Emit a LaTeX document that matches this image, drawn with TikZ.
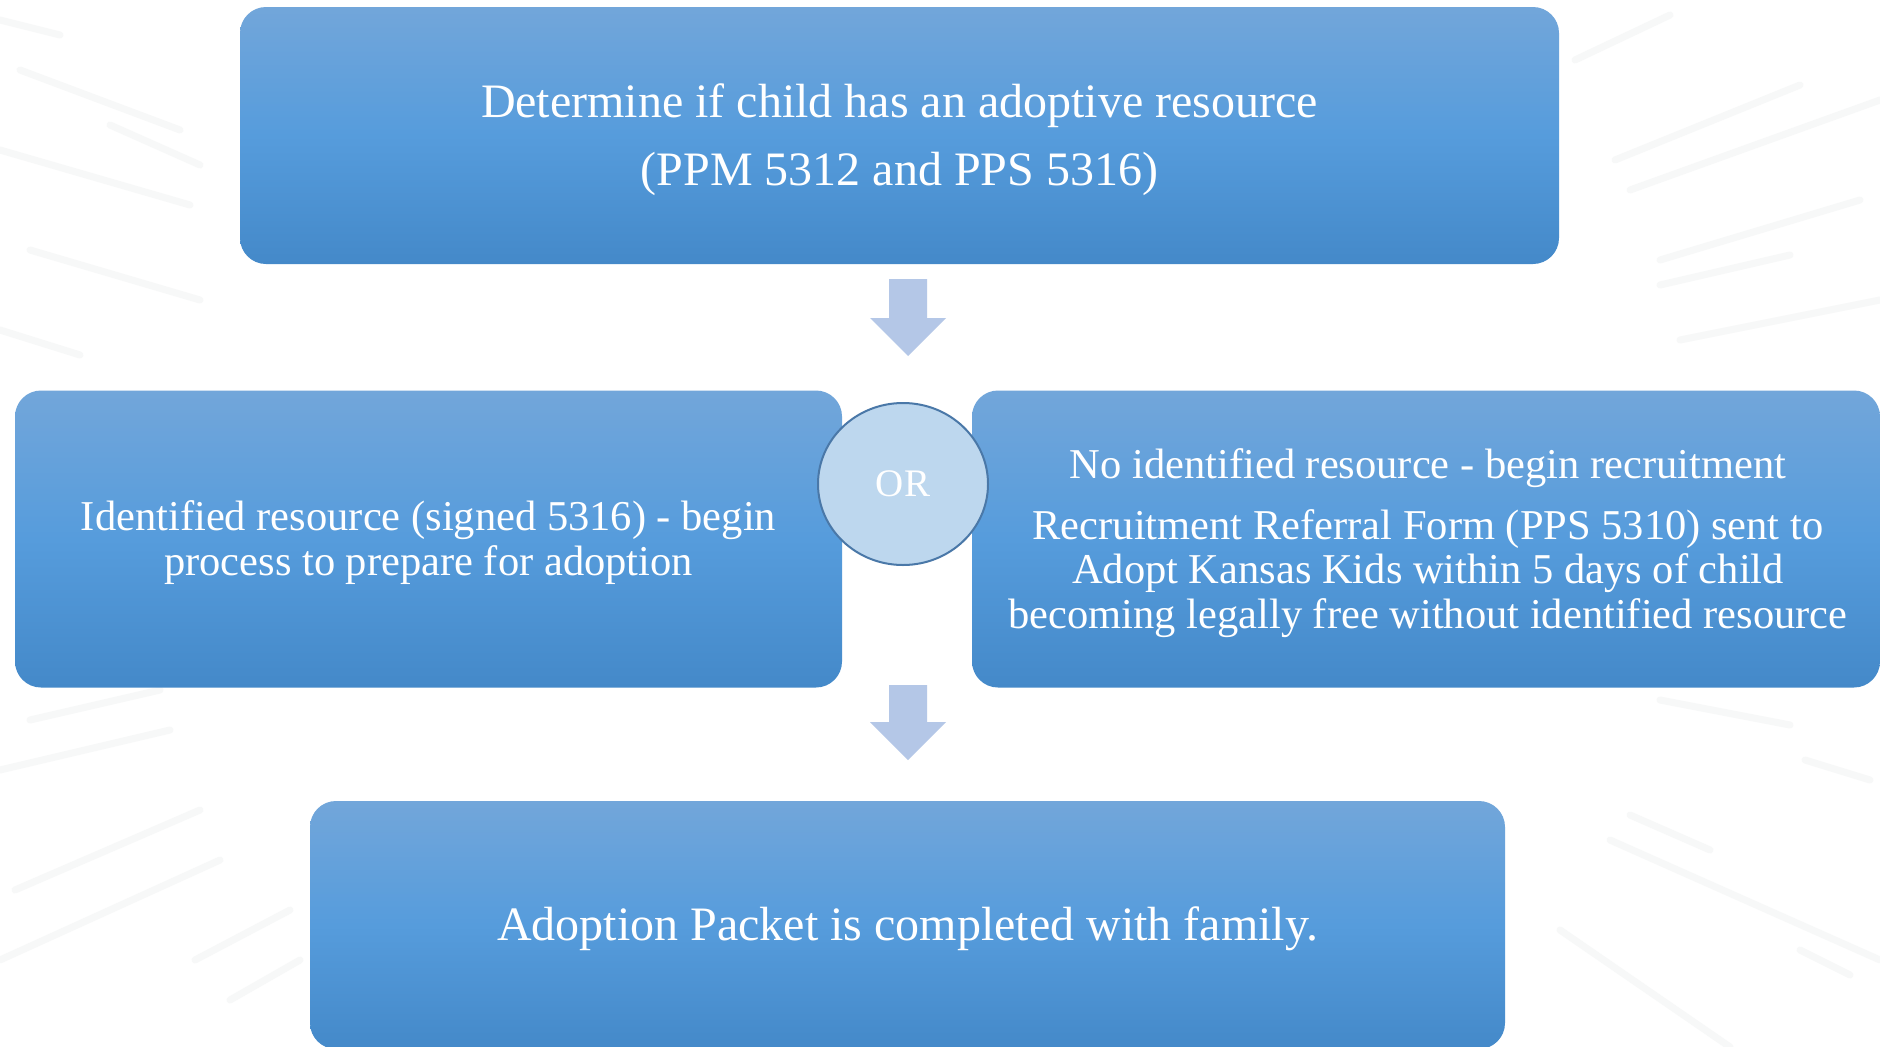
\documentclass[tikz,border=0pt]{standalone}
\usepackage{fontspec}
\setmainfont{Liberation Serif}
\usetikzlibrary{shapes.geometric}
\definecolor{boxtop}{RGB}{114,166,218}
\definecolor{boxmid}{RGB}{86,156,220}
\definecolor{boxbot}{RGB}{68,137,201}
\definecolor{arrowfill}{RGB}{180,199,231}
\definecolor{orfill}{RGB}{189,215,238}
\definecolor{ordraw}{RGB}{74,120,168}
\definecolor{feather}{RGB}{247,248,248}
\begin{document}
\begin{tikzpicture}[x=1pt,y=-1pt,
  bluebox/.style={rectangle, rounded corners=26pt, top color=boxtop, bottom color=boxbot, middle color=boxmid,
    draw=none, inner sep=0pt, outer sep=0pt},
  boxtext/.style={text=white, align=center, inner sep=0pt},
  orcircle/.style={ellipse, fill=orfill, draw=ordraw, line width=2pt, minimum width=170pt, minimum height=162pt,
    inner sep=0pt, text=white, font=\fontsize{39}{40}\selectfont},
  blockarrow/.style={fill=arrowfill, draw=none},
  featherline/.style={draw=feather, line width=7pt, line cap=round}
]
\clip (0,0) rectangle (1880,1047);
\fill[white] (0,0) rectangle (1880,1047);

% faint background decoration
\draw[featherline] (0,20) -- (60,35);
\draw[featherline] (20,70) -- (180,130);
\draw[featherline] (110,125) -- (200,165);
\draw[featherline] (0,150) -- (190,205);
\draw[featherline] (30,250) -- (200,300);
\draw[featherline] (0,330) -- (80,355);
\draw[featherline] (30,720) -- (160,690);
\draw[featherline] (0,770) -- (170,730);
\draw[featherline] (15,890) -- (200,810);
\draw[featherline] (0,960) -- (220,860);
\draw[featherline] (195,960) -- (290,910);
\draw[featherline] (230,1000) -- (300,960);
\draw[featherline] (1575,60) -- (1670,15);
\draw[featherline] (1615,160) -- (1800,85);
\draw[featherline] (1630,190) -- (1880,100);
\draw[featherline] (1660,260) -- (1860,200);
\draw[featherline] (1660,285) -- (1790,255);
\draw[featherline] (1680,340) -- (1880,300);
\draw[featherline] (1660,700) -- (1790,725);
\draw[featherline] (1805,760) -- (1870,780);
\draw[featherline] (1630,815) -- (1710,850);
\draw[featherline] (1610,840) -- (1880,960);
\draw[featherline] (1560,930) -- (1730,1047);
\draw[featherline] (1800,950) -- (1850,975);

% boxes
\node[bluebox, minimum width=1319pt, minimum height=257pt] (top) at (899.5,135.5) {};
\node[boxtext, font=\fontsize{48}{68}\selectfont] (toptext) at ([yshift=-4pt]top.center)
  {Determine if child has an adoptive resource\\(PPM 5312 and PPS 5316)};
\node[bluebox, minimum width=827pt, minimum height=297pt] (left) at (428.5,539) {};
\node[boxtext, font=\fontsize{42.5}{45}\selectfont] (lefttext) at ([yshift=-4pt]left.center)
  {Identified resource (signed 5316) - begin\\process to prepare for adoption};
\node[bluebox, minimum width=908pt, minimum height=297pt] (right) at (1426,539) {};
\node[boxtext, font=\fontsize{42.5}{44.5}\selectfont] (righttext) at ([xshift=2pt,yshift=-4pt]right.center)
  {No identified resource - begin recruitment\\[16pt]Recruitment Referral Form (PPS 5310) sent to\\Adopt Kansas Kids within 5 days of child\\becoming legally free without identified resource};
\node[bluebox, minimum width=1195pt, minimum height=248pt] (bottom) at (907.5,925) {};
\node[boxtext, font=\fontsize{48}{60}\selectfont] (bottomtext) at ([yshift=-4pt]bottom.center)
  {Adoption Packet is completed with family.};

\node[orcircle] (or) at (903,484) {OR};

% block arrows
\coordinate (a1) at (908,279);
\fill[blockarrow] (a1) ++(-19,0) -- ++(38,0) -- ++(0,39) -- ++(19,0) -- ++(-38,38) -- ++(-38,-38) -- ++(19,0) -- cycle;
\coordinate (a2) at (908,685);
\fill[blockarrow] (a2) ++(-19,0) -- ++(38,0) -- ++(0,37) -- ++(19,0) -- ++(-38,38) -- ++(-38,-38) -- ++(19,0) -- cycle;
\end{tikzpicture}
\end{document}
